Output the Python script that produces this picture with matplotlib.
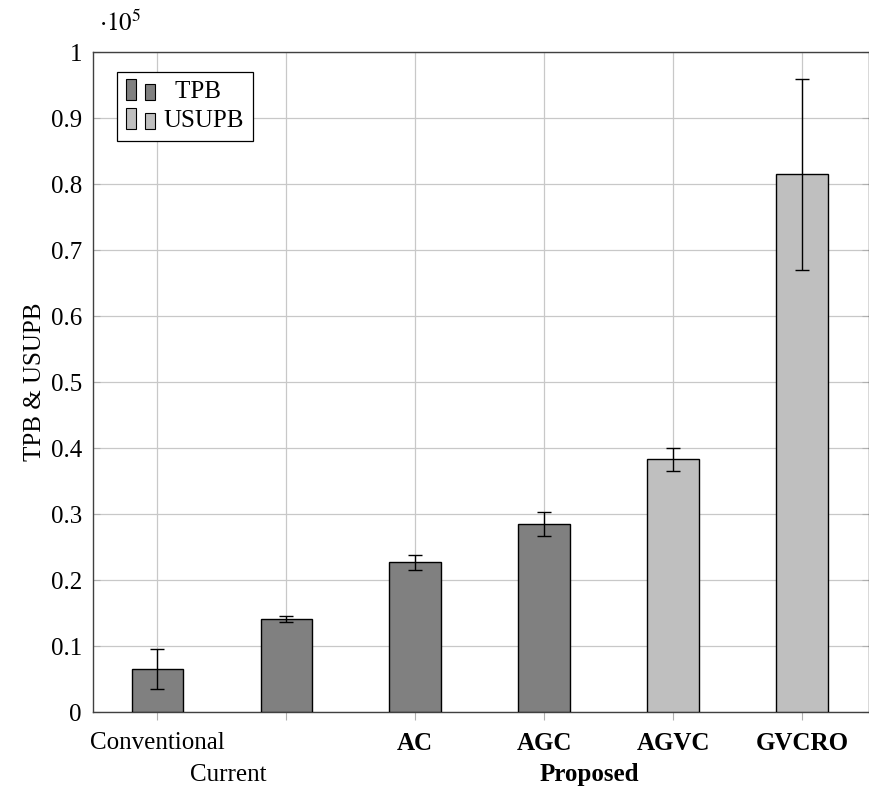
"""
Bar chart of TPB & USUPB per method, pgfplots look-alike
"""

import matplotlib
matplotlib.use("Agg")
import matplotlib.pyplot as plt
from matplotlib.legend_handler import HandlerBase
from matplotlib.patches import Rectangle, Patch

# data (in units of 1e5)
methods = ["Conventional", "", "AC", "AGC", "AGVC", "GVCRO"]
bold_labels = [False, False, True, True, True, True]
values = [0.065, 0.141, 0.227, 0.285, 0.383, 0.815]
errors = [0.030, 0.005, 0.011, 0.018, 0.018, 0.145]
series = ["TPB", "TPB", "TPB", "TPB", "USUPB", "USUPB"]
group_labels = ["Current", "Proposed"]
group_pos = [0.55, 3.35]
y_ticks = [0, 0.1, 0.2, 0.3, 0.4, 0.5, 0.6, 0.7, 0.8, 0.9, 1]

colors = {"TPB": "#808080", "USUPB": "#bfbfbf"}
FS = 18

plt.rcParams["font.family"] = ["Liberation Serif", "DejaVu Serif"]
plt.rcParams["mathtext.fontset"] = "stix"


class TwoBarHandler(HandlerBase):
    """pgfplots-style ybar legend image: two small bars"""

    def create_artists(self, legend, orig_handle, xdescent, ydescent,
                       width, height, fontsize, trans):
        fc = orig_handle.get_facecolor()
        bw = width * 0.3
        arts = []
        for x0, h in [(0.0, height * 1.2), (width * 0.6, height * 0.9)]:
            r = Rectangle((x0 - xdescent, -ydescent - height * 0.1), bw, h,
                          facecolor=fc, edgecolor="black", lw=0.8,
                          transform=trans)
            arts.append(r)
        return arts


fig = plt.figure(figsize=(8.69, 7.93), dpi=100)
ax = fig.add_axes([0.107, 0.102, 0.893, 0.832])

x = list(range(len(values)))
ax.bar(x, values, width=0.4, color=[colors[s] for s in series],
       edgecolor="black", linewidth=1.0, zorder=3)
ax.errorbar(x, values, yerr=errors, fmt="none", ecolor="black",
            elinewidth=1.0, capsize=5, capthick=1.0, zorder=4)

ax.set_xlim(-0.5, 5.52)
ax.set_ylim(0, 1)
ax.set_yticks(y_ticks)
ax.set_yticklabels([f"{t:g}" for t in y_ticks])
ax.set_xticks(x)
ax.set_xticklabels(methods)
for lbl, b in zip(ax.get_xticklabels(), bold_labels):
    if b:
        lbl.set_fontweight("bold")

ax.grid(True, color="#c8c8c8", linewidth=0.9, zorder=0)
ax.set_axisbelow(True)
ax.tick_params(axis="x", direction="out", length=6, color="#b0b0b0",
               labelsize=FS, pad=8)
ax.tick_params(axis="y", direction="in", length=5, color="#b0b0b0",
               labelsize=FS, left=True, right=True, pad=8)
for sp in ax.spines.values():
    sp.set_color("#404040")
    sp.set_linewidth(1.0)

for name, xp in zip(group_labels, group_pos):
    ax.text(xp, -0.095, name, ha="center", va="center", fontsize=FS,
            fontweight="bold" if name == "Proposed" else "normal",
            transform=ax.get_xaxis_transform())

ax.set_ylabel("TPB & USUPB", fontsize=FS, labelpad=3)
ax.text(0.008, 1.025, r"$\cdot 10^5$", fontsize=FS, transform=ax.transAxes,
        ha="left", va="bottom")

handles = [Patch(facecolor=colors["TPB"]), Patch(facecolor=colors["USUPB"])]
leg = ax.legend(handles, ["  TPB", "USUPB"], loc="upper left",
                bbox_to_anchor=(0.031, 0.97), fontsize=FS, fancybox=False,
                framealpha=1, edgecolor="black", borderpad=0.35,
                handlelength=1.3, handletextpad=0.2, labelspacing=0.25,
                borderaxespad=0,
                handler_map={Patch: TwoBarHandler()})
leg.get_frame().set_linewidth(0.9)
leg.set_zorder(5)

fig.savefig("out.png", dpi=100)
